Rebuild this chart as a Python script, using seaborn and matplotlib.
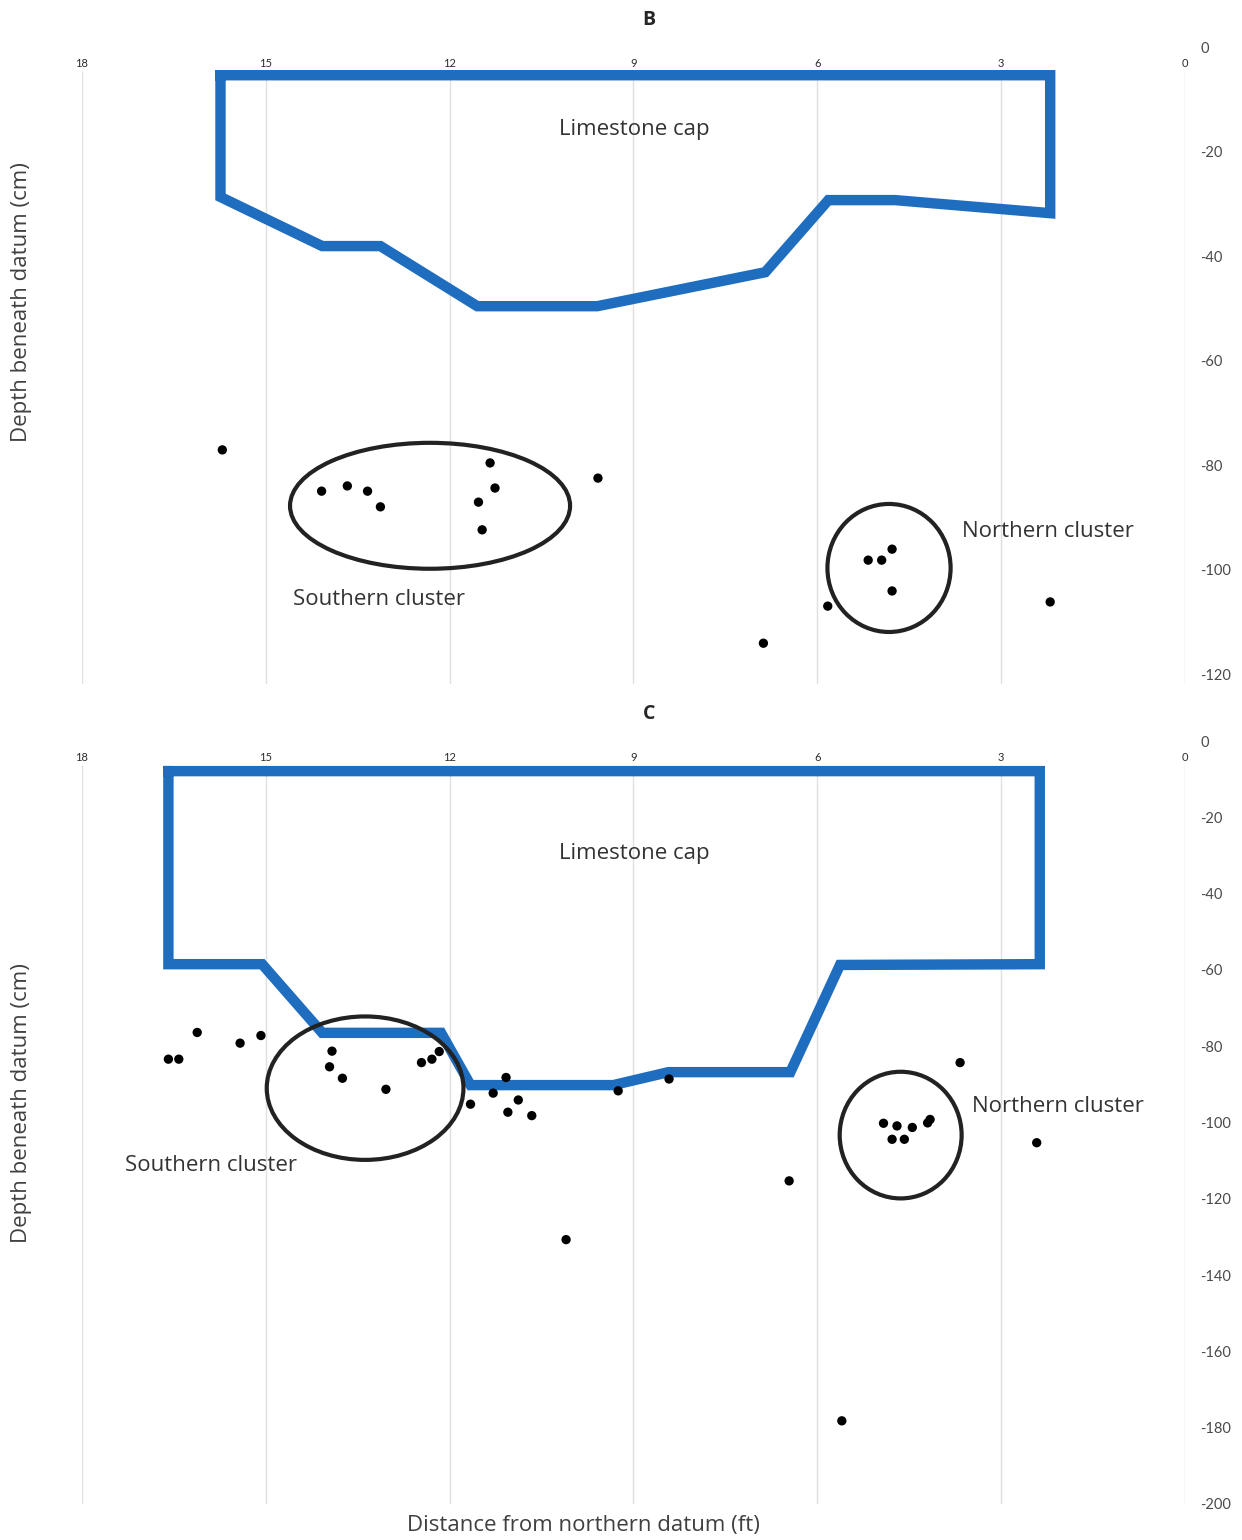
import numpy as np
import pandas as pd
import matplotlib
matplotlib.use("Agg")
import matplotlib.pyplot as plt
from matplotlib.patches import Ellipse
import seaborn as sns

sns.set_style("white")
plt.rcParams['font.family'] = ['Lato', 'DejaVu Sans']

# ---- data ----
x_ticks = [18, 15, 12, 9, 6, 3, 0]
y_ticks_b = [0, -20, -40, -60, -80, -100, -120]
y_ticks_c = [0, -20, -40, -60, -80, -100, -120, -140, -160, -180, -200]

# limestone cap outline, panel B
cap_b_ft = [15.74, 2.20, 2.20, 4.73, 5.82, 6.85, 9.59, 11.55, 13.13, 14.08, 15.74, 15.74]
cap_b_cm = [-5.4, -5.4, -31.8, -29.3, -29.3, -43.1, -49.6, -49.6, -38.1, -38.1, -28.7, -5.4]

# artefacts, panel B
pts_b_ft = [15.71, 14.09, 13.67, 13.34, 13.13, 11.34, 11.26, 11.53, 11.47, 9.58,
            4.78, 5.17, 4.95, 4.78, 5.83, 6.88, 2.20]
pts_b_cm = [-77.1, -85.0, -84.0, -85.0, -88.0, -79.6, -84.4, -87.1, -92.4, -82.5,
            -96.1, -98.2, -98.2, -104.1, -107.0, -114.1, -106.2]

# limestone cap outline, panel C
cap_c_ft = [16.59, 2.37, 2.37, 5.63, 6.44, 8.43, 9.33, 11.66, 12.14, 14.08, 15.06, 16.59, 16.59]
cap_c_cm = [-7.9, -7.9, -58.5, -58.7, -86.8, -86.8, -90.2, -90.2, -76.5, -76.5, -58.5, -58.5, -7.9]

# artefacts, panel C
pts_c_ft = [16.59, 16.42, 16.12, 15.42, 15.08, 13.92, 13.96, 13.75, 13.04, 12.46,
            12.29, 12.17, 11.66, 11.29, 11.08, 10.88, 11.05, 10.66, 9.25, 8.42,
            10.10, 6.46, 5.60, 3.67, 4.92, 4.70, 4.45, 4.20, 4.16, 4.78, 4.58, 2.42]
pts_c_cm = [-83.4, -83.4, -76.4, -79.2, -77.2, -81.3, -85.4, -88.4, -91.3, -84.3,
            -83.4, -81.4, -95.2, -92.3, -88.2, -94.1, -97.3, -98.2, -91.7, -88.6,
            -130.7, -115.3, -178.2, -84.3, -100.2, -100.9, -101.3, -100.1, -99.2, -104.4, -104.4, -105.3]

# cluster outlines: (centre ft, centre cm, width ft, height cm)
south_b = (12.32, -87.8, 4.57, 24.1)
north_b = (4.83, -99.7, 2.01, 24.5)
south_c = (13.38, -91.0, 3.21, 37.6)
north_c = (4.64, -103.3, 1.99, 33.2)

blue = "#1f6dbf"
txt = "#333333"
sans = ["Open Sans", "DejaVu Sans"]

fig = plt.figure(figsize=(12.42, 15.4), dpi=100)
ax_b = fig.add_axes([0.06602, 0.55552, 0.88808, 0.41396])
ax_c = fig.add_axes([0.06602, 0.02338, 0.88808, 0.49545])


def panel(ax, cap_ft, cap_cm, pts_ft, pts_cm, yticks, ylim, grid_top, south, north,
          cap_lab, south_lab, north_lab, title):
    cap = pd.DataFrame({"ft": cap_ft, "cm": cap_cm})
    pts = pd.DataFrame({"ft": pts_ft, "cm": pts_cm})
    ax.vlines(x_ticks, ylim[0], grid_top, color="#e0e0e0", lw=1, zorder=0)
    sns.lineplot(data=cap, x="ft", y="cm", sort=False, estimator=None, ax=ax,
                 color=blue, lw=7.5, solid_capstyle="projecting", solid_joinstyle="miter", zorder=2)
    sns.scatterplot(data=pts, x="ft", y="cm", ax=ax, color="black", s=45, edgecolor="none", zorder=3)
    for cx, cy, w, h in (south, north):
        ax.add_patch(Ellipse((cx, cy), w, h, fill=False, ec="#222222", lw=3, zorder=4))
    ax.set_xlim(18, 0)
    ax.set_ylim(*ylim)
    ax.set_xticks(x_ticks)
    ax.set_xticklabels([str(v) for v in x_ticks])
    ax.set_yticks(yticks)
    ax.set_yticklabels([str(v) for v in yticks])
    ax.xaxis.tick_top()
    ax.tick_params(axis="x", length=0, pad=-16, labelsize=8, labelcolor="#2b2b2b")
    ax.yaxis.tick_right()
    ax.tick_params(axis="y", length=0, pad=11, labelsize=10.5, labelcolor="#4a4a4a")
    for s in ax.spines.values():
        s.set_visible(False)
    ax.set_xlabel("")
    ax.set_ylabel("Depth beneath datum (cm)", family=sans, fontsize=16, color="#404040")
    ax.yaxis.set_label_position("left")
    ax.set_title(title, fontweight="bold", fontsize=14, pad=16, x=0.514, family=sans)
    ax.text(cap_lab[0], cap_lab[1], "Limestone cap", ha="center", va="center",
            fontsize=16, color=txt, family=sans)
    ax.text(south_lab[0], south_lab[1], "Southern cluster", ha="center", va="center",
            fontsize=16, color=txt, family=sans)
    ax.text(north_lab[0], north_lab[1], "Northern cluster", ha="center", va="center",
            fontsize=16, color=txt, family=sans)


panel(ax_b, cap_b_ft, cap_b_cm, pts_b_ft, pts_b_cm, y_ticks_b, (-122, 0), -4.6,
      south_b, north_b, (8.99, -15.7), (13.16, -105.8), (2.23, -92.8), "B")
panel(ax_c, cap_c_ft, cap_c_cm, pts_c_ft, pts_c_cm, y_ticks_c, (-200, 0), -6.2,
      south_c, north_c, (8.99, -29.6), (15.89, -111.4), (2.07, -95.7), "C")

ax_b.yaxis.set_label_coords(-0.045, 0.600)
ax_c.yaxis.set_label_coords(-0.045, 0.526)
ax_c.set_xlabel("Distance from northern datum (ft)", family=sans, fontsize=16, color="#404040")
ax_c.xaxis.set_label_position("bottom")
ax_c.xaxis.set_label_coords(0.455, -0.0145)

fig.savefig("out.png", dpi=100, facecolor="white")
